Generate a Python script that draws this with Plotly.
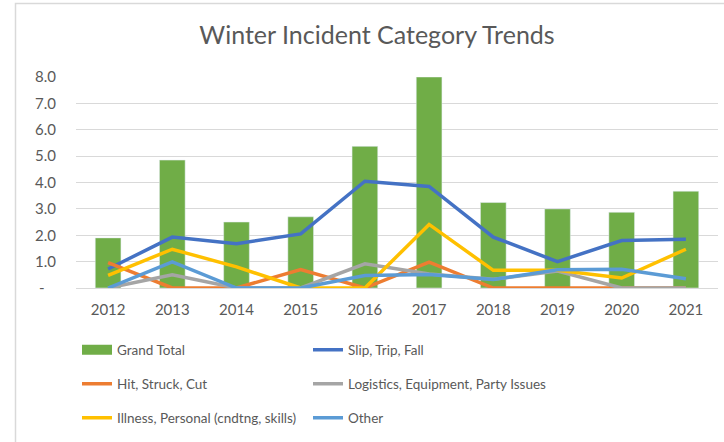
import plotly.graph_objects as go

years = ["2012", "2013", "2014", "2015", "2016", "2017", "2018", "2019", "2020", "2021"]
grand_total = [1.9, 4.85, 2.5, 2.7, 5.37, 8.0, 3.24, 3.0, 2.87, 3.67]
slip_trip_fall = [0.72, 1.93, 1.68, 2.05, 4.05, 3.85, 1.93, 1.0, 1.8, 1.85]
hit_struck_cut = [0.96, 0.0, 0.0, 0.7, 0.0, 0.98, 0.0, 0.0, 0.0, 0.0]
logistics = [0.0, 0.5, 0.0, 0.0, 0.92, 0.53, 0.33, 0.64, 0.0, 0.0]
illness = [0.48, 1.47, 0.8, 0.0, 0.0, 2.41, 0.67, 0.67, 0.38, 1.47]
other = [0.0, 0.99, 0.0, 0.0, 0.47, 0.51, 0.32, 0.69, 0.71, 0.35]

y_tickvals = [0, 1, 2, 3, 4, 5, 6, 7, 8]
y_ticktext = ["-\u00a0\u00a0\u00a0", "1.0", "2.0", "3.0", "4.0", "5.0", "6.0", "7.0", "8.0"]

FONT = "Lato"
TXT = "#595959"

fig = go.Figure()
fig.add_trace(go.Bar(x=years, y=grand_total, name="Grand Total", marker_color="#70AD47",
                     showlegend=False))
# legend proxy for bar (wide rectangle swatch)
fig.add_trace(go.Scatter(x=[None], y=[None], mode="lines", name="Grand Total",
                         line=dict(color="#70AD47", width=10), legend="legend"))
fig.add_trace(go.Scatter(x=years, y=slip_trip_fall, mode="lines", name="Slip, Trip, Fall",
                         line=dict(color="#4472C4", width=3.5), legend="legend2"))
fig.add_trace(go.Scatter(x=years, y=hit_struck_cut, mode="lines", name="Hit, Struck, Cut",
                         line=dict(color="#ED7D31", width=3.5), legend="legend3"))
fig.add_trace(go.Scatter(x=years, y=logistics, mode="lines", name="Logistics, Equipment, Party Issues",
                         line=dict(color="#A5A5A5", width=3.5), legend="legend4"))
fig.add_trace(go.Scatter(x=years, y=illness, mode="lines", name="Illness, Personal (cndtng, skills)",
                         line=dict(color="#FFC000", width=3.5), legend="legend5"))
fig.add_trace(go.Scatter(x=years, y=other, mode="lines", name="Other",
                         line=dict(color="#5B9BD5", width=3.5), legend="legend6"))

L, R, T, B = 76, 6, 77, 154
W, H = 724, 442
pw, ph = W - L - R, H - T - B

def py2paper(py):
    return (H - B - py) / ph

def px2paper(px):
    return (px - L) / pw

leg_common = dict(orientation="h",
                  font=dict(family=FONT, size=13.5, color=TXT), bgcolor="rgba(0,0,0,0)",
                  xanchor="left", yanchor="middle")
col1, col2 = px2paper(77), px2paper(308)
rows = [py2paper(350), py2paper(384), py2paper(418)]

fig.update_layout(
    width=W, height=H,
    margin=dict(l=L, r=R, t=T, b=B, autoexpand=False),
    paper_bgcolor="white", plot_bgcolor="white",
    font=dict(family=FONT, color=TXT),
    title=dict(text="Winter Incident Category Trends", x=px2paper(377), xref="paper",
               xanchor="center", y=1 - 35 / H, yanchor="middle",
               font=dict(family=FONT, size=25, color=TXT)),
    bargap=0.6,
    legend=dict(x=col1, y=rows[0], **leg_common),
    legend2=dict(x=col2, y=rows[0], **leg_common),
    legend3=dict(x=col1, y=rows[1], **leg_common),
    legend4=dict(x=col2, y=rows[1], **leg_common),
    legend5=dict(x=col1, y=rows[2], **leg_common),
    legend6=dict(x=col2, y=rows[2], **leg_common),
    xaxis=dict(type="category", showgrid=False, showline=False, zeroline=False,
               tickfont=dict(family=FONT, size=15, color=TXT), ticks="",
               ticklabelstandoff=11),
    yaxis=dict(range=[0, 8], tickvals=y_tickvals, ticktext=y_ticktext,
               showgrid=True, gridcolor="#D9D9D9", gridwidth=1,
               zeroline=True, zerolinecolor="#D9D9D9", zerolinewidth=1,
               showline=False, ticks="", tickfont=dict(family=FONT, size=15, color=TXT),
               ticklabelstandoff=19),
    shapes=[dict(type="rect", xref="paper", yref="paper",
                 x0=px2paper(15.5), x1=px2paper(735), y0=py2paper(460), y1=py2paper(3.5),
                 line=dict(color="#D9D9D9", width=1.5), layer="below")],
)

fig.write_html("out.html", config={"displayModeBar": False},
               post_script="document.body.style.margin='0';")
